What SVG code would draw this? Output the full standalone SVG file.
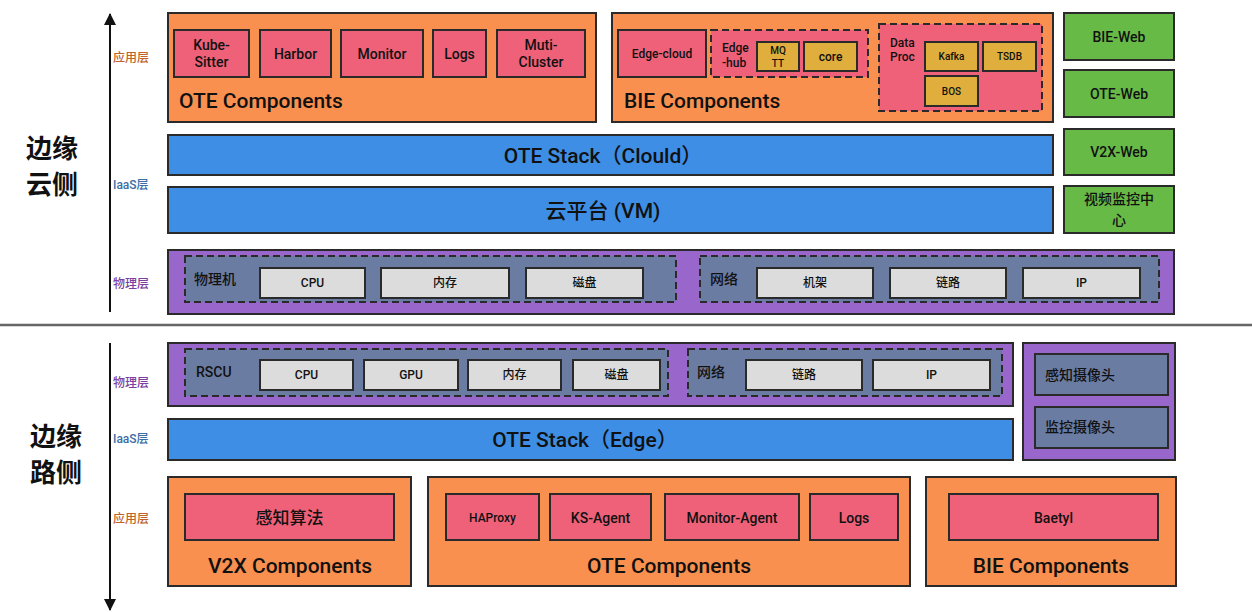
<svg xmlns="http://www.w3.org/2000/svg" width="1252" height="612" viewBox="0 0 1252 612">
  <style>
    text { font-family: Roboto, "Liberation Sans", "Noto Sans CJK SC", sans-serif; font-weight: 500; fill: #111; }
    .c { text-anchor: middle; dominant-baseline: central; }
    .box { stroke: #2a2a2a; stroke-width: 2; }
    .orange { fill: #f9904f; }
    .pink { fill: #ef6179; }
    .yellow { fill: #dfae3c; }
    .blue { fill: #3e8ee6; }
    .green { fill: #67ba46; }
    .purple { fill: #9966cc; }
    .slate { fill: #6b7ca3; }
    .gray { fill: #dcdcdc; }
    .dash { stroke: #2a2a2a; stroke-width: 2; stroke-dasharray: 7 4; }
    .big { font-size: 21px; }
    .lbl { font-size: 14px; }
    .sm { font-size: 12px; }
    .xs { font-size: 10px; }
    .side { font-size: 26px; font-weight: bold; }
    .layer { font-size: 12px; }
  </style>
  <defs>
    <marker id="arr" viewBox="0 0 12 20" refX="11" refY="6" markerWidth="12" markerHeight="20" markerUnits="userSpaceOnUse" orient="auto">
      <path d="M0,0 L12,6 L0,12 z" fill="#111"/>
    </marker>
  </defs>

  <!-- axes and divider -->
  <g id="connectors">
    <line x1="110" y1="312" x2="110" y2="14" stroke="#111" stroke-width="2" marker-end="url(#arr)"/>
    <line x1="110" y1="343" x2="110" y2="610" stroke="#111" stroke-width="2" marker-end="url(#arr)"/>
    <line x1="0" y1="325" x2="1252" y2="325" stroke="#666" stroke-width="2.5"/>
  </g>

  <!-- side titles and layer labels -->
  <g id="labels">
    <text class="side" x="26" y="158">边缘</text>
    <text class="side" x="26" y="194">云侧</text>
    <text class="side" x="30" y="446">边缘</text>
    <text class="side" x="30" y="482">路侧</text>
    <text class="layer" x="113" y="62" style="fill:#c0622b">应用层</text>
    <text class="layer" x="113" y="189" style="fill:#3a6ea5">IaaS层</text>
    <text class="layer" x="113" y="288" style="fill:#7a3fa0">物理层</text>
    <text class="layer" x="113" y="387" style="fill:#7a3fa0">物理层</text>
    <text class="layer" x="113" y="443" style="fill:#3a6ea5">IaaS层</text>
    <text class="layer" x="113" y="523" style="fill:#c0622b">应用层</text>
  </g>

  <!-- cloud side: OTE components -->
  <g id="cloud-ote-components">
    <rect class="box orange" x="168" y="13" width="428" height="109"/>
    <rect class="box pink" x="174" y="30" width="75" height="47"/>
    <text class="c lbl" x="211.5" y="45">Kube-</text>
    <text class="c lbl" x="211.5" y="62">Sitter</text>
    <rect class="box pink" x="260" y="30" width="71" height="47"/>
    <text class="c lbl" x="295.5" y="53.5">Harbor</text>
    <rect class="box pink" x="341" y="30" width="82" height="47"/>
    <text class="c lbl" x="382" y="53.5">Monitor</text>
    <rect class="box pink" x="433" y="30" width="53" height="47"/>
    <text class="c lbl" x="459.5" y="53.5">Logs</text>
    <rect class="box pink" x="497" y="30" width="88" height="47"/>
    <text class="c lbl" x="541" y="45">Muti-</text>
    <text class="c lbl" x="541" y="62">Cluster</text>
    <text class="big" x="179" y="108">OTE Components</text>
  </g>

  <!-- cloud side: BIE components -->
  <g id="cloud-bie-components">
    <rect class="box orange" x="612" y="13" width="441" height="109"/>
    <rect class="box pink" x="618" y="30" width="88" height="47"/>
    <text class="c sm" x="662" y="53.5">Edge-cloud</text>
    <rect class="dash pink" x="711" y="30" width="157" height="47"/>
    <text class="sm" x="722" y="52">Edge</text>
    <text class="sm" x="722" y="67">-hub</text>
    <rect class="box yellow" x="757" y="42" width="42" height="29"/>
    <text class="c xs" x="778" y="50">MQ</text>
    <text class="c xs" x="778" y="63">TT</text>
    <rect class="box yellow" x="804" y="42" width="53" height="29"/>
    <text class="c sm" x="830.5" y="57">core</text>
    <rect class="dash pink" x="879" y="24" width="163" height="87"/>
    <text class="sm" x="890" y="47">Data</text>
    <text class="sm" x="890" y="61">Proc</text>
    <rect class="box yellow" x="925" y="42" width="53" height="29"/>
    <text class="c xs" x="951.5" y="56.5">Kafka</text>
    <rect class="box yellow" x="983" y="42" width="53" height="29"/>
    <text class="c xs" x="1009.5" y="56.5">TSDB</text>
    <rect class="box yellow" x="925" y="76" width="53" height="30"/>
    <text class="c xs" x="951.5" y="91">BOS</text>
    <text class="big" x="624" y="108">BIE Components</text>
  </g>

  <!-- cloud side: web consoles -->
  <g id="bie-web">
    <rect class="box green" x="1064" y="13" width="110" height="47"/>
    <text class="c lbl" x="1119" y="37">BIE-Web</text>
  </g>
  <g id="ote-web">
    <rect class="box green" x="1064" y="70" width="110" height="47"/>
    <text class="c lbl" x="1119" y="94">OTE-Web</text>
  </g>
  <g id="v2x-web">
    <rect class="box green" x="1064" y="129" width="110" height="46"/>
    <text class="c lbl" x="1119" y="152">V2X-Web</text>
  </g>
  <g id="video-center">
    <rect class="box green" x="1064" y="186" width="110" height="47"/>
    <text class="c lbl" x="1119" y="199">视频监控中</text>
    <text class="c lbl" x="1119" y="220">心</text>
  </g>

  <!-- cloud side: IaaS -->
  <g id="ote-stack-cloud">
    <rect class="box blue" x="168" y="135" width="885" height="40"/>
    <text class="c big" x="603" y="156">OTE Stack（Clould）</text>
  </g>
  <g id="cloud-platform">
    <rect class="box blue" x="168" y="187" width="885" height="46"/>
    <text class="c big" x="603" y="211">云平台 (VM)</text>
  </g>

  <!-- cloud side: physical layer -->
  <g id="cloud-physical">
    <rect class="box purple" x="168" y="250" width="1006" height="64"/>
    <rect class="dash slate" x="185" y="256" width="491" height="46"/>
    <text class="lbl" x="194" y="284">物理机</text>
    <rect class="box gray" x="260" y="268" width="105" height="30"/>
    <text class="c sm" x="312.5" y="283">CPU</text>
    <rect class="box gray" x="381" y="268" width="128" height="30"/>
    <text class="c sm" x="445" y="283">内存</text>
    <rect class="box gray" x="526" y="268" width="117" height="30"/>
    <text class="c sm" x="584.5" y="283">磁盘</text>
    <rect class="dash slate" x="700" y="256" width="459" height="46"/>
    <text class="lbl" x="710" y="284">网络</text>
    <rect class="box gray" x="757" y="268" width="116" height="30"/>
    <text class="c sm" x="815" y="283">机架</text>
    <rect class="box gray" x="890" y="268" width="116" height="30"/>
    <text class="c sm" x="948" y="283">链路</text>
    <rect class="box gray" x="1023" y="268" width="117" height="30"/>
    <text class="c sm" x="1081.5" y="283">IP</text>
  </g>

  <!-- road side: physical layer -->
  <g id="road-physical">
    <rect class="box purple" x="168" y="343" width="845" height="63"/>
    <rect class="dash slate" x="185" y="349" width="483" height="47"/>
    <text class="lbl" x="196" y="377">RSCU</text>
    <rect class="box gray" x="260" y="360" width="93" height="30"/>
    <text class="c sm" x="306.5" y="375">CPU</text>
    <rect class="box gray" x="364" y="360" width="94" height="30"/>
    <text class="c sm" x="411" y="375">GPU</text>
    <rect class="box gray" x="468" y="360" width="93" height="30"/>
    <text class="c sm" x="514.5" y="375">内存</text>
    <rect class="box gray" x="573" y="360" width="87" height="30"/>
    <text class="c sm" x="616.5" y="375">磁盘</text>
    <rect class="dash slate" x="688" y="349" width="314" height="47"/>
    <text class="lbl" x="697" y="377">网络</text>
    <rect class="box gray" x="746" y="360" width="116" height="30"/>
    <text class="c sm" x="804" y="375">链路</text>
    <rect class="box gray" x="873" y="360" width="117" height="30"/>
    <text class="c sm" x="931.5" y="375">IP</text>
  </g>

  <!-- road side: cameras -->
  <g id="cameras">
    <rect class="box purple" x="1023" y="343" width="152" height="117"/>
    <rect class="box slate" x="1035" y="354" width="133" height="41"/>
    <text class="lbl" x="1045" y="380">感知摄像头</text>
    <rect class="box slate" x="1035" y="407" width="133" height="41"/>
    <text class="lbl" x="1045" y="432">监控摄像头</text>
  </g>

  <!-- road side: IaaS -->
  <g id="ote-stack-edge">
    <rect class="box blue" x="168" y="419" width="845" height="41"/>
    <text class="c big" x="585" y="440">OTE Stack（Edge）</text>
  </g>

  <!-- road side: application layer -->
  <g id="v2x-components">
    <rect class="box orange" x="168" y="477" width="243" height="109"/>
    <rect class="box pink" x="185" y="494" width="209" height="46"/>
    <text class="c" x="289.5" y="518" style="font-size:17px">感知算法</text>
    <text class="c big" x="290" y="566">V2X Components</text>
  </g>
  <g id="road-ote-components">
    <rect class="box orange" x="428" y="477" width="482" height="109"/>
    <rect class="box pink" x="446" y="494" width="93" height="46"/>
    <text class="c sm" x="492.5" y="518">HAProxy</text>
    <rect class="box pink" x="550" y="494" width="101" height="46"/>
    <text class="c lbl" x="600.5" y="518">KS-Agent</text>
    <rect class="box pink" x="665" y="494" width="134" height="46"/>
    <text class="c lbl" x="732" y="518">Monitor-Agent</text>
    <rect class="box pink" x="810" y="494" width="88" height="46"/>
    <text class="c lbl" x="854" y="518">Logs</text>
    <text class="c big" x="669" y="566">OTE Components</text>
  </g>
  <g id="road-bie-components">
    <rect class="box orange" x="926" y="477" width="250" height="109"/>
    <rect class="box pink" x="949" y="494" width="209" height="46"/>
    <text class="c lbl" x="1053.5" y="518">Baetyl</text>
    <text class="c big" x="1051" y="566">BIE Components</text>
  </g>
</svg>
